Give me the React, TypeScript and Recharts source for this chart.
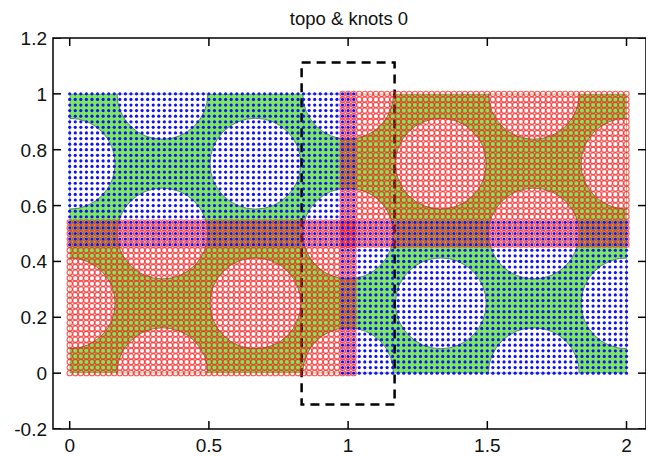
import React from "react";
import { ComposedChart, Scatter, XAxis, YAxis, ReferenceArea } from "recharts";

// axis setup
const xDomain = [-0.06, 2.07];
const yDomain = [-0.2, 1.2];
const xTicks = [0, 0.5, 1, 1.5, 2];
const yTicks = [-0.2, 0, 0.2, 0.4, 0.6, 0.8, 1, 1.2];

// knot spacing of the patches
const knotStep = 0.02;

// blue knot patches: [x0, x1, y0, y1]
const blueTopLeft = [0, 1.02, 0.46, 1];
const blueBottomRight = [0.98, 2, 0, 0.54];
// red knot patches
const redBottomLeft = [0, 1.02, 0, 0.54];
const redTopRight = [0.98, 2, 0.46, 1];

// topology holes (centres and radius)
const holeX = [0, 0, 0.667, 0.667, 1.333, 1.333, 2, 2, 0.333, 0.333, 0.333, 1, 1, 1, 1.667, 1.667, 1.667];
const holeY = [0.25, 0.75, 0.25, 0.75, 0.25, 0.75, 0.25, 0.75, 0, 0.5, 1, 0, 0.5, 1, 0, 0.5, 1];
const holeR = 0.163;

// the topology domain and the dashed box
const topoBox = [0, 2, 0, 1];
const dashedBox = [0.833, 1.167, -0.112, 1.112];

const buildPatch = (p: number[]) => {
  const pts: { x: number; y: number }[] = [];
  const i0 = Math.round(p[0] / knotStep);
  const i1 = Math.round(p[1] / knotStep);
  const j0 = Math.round(p[2] / knotStep);
  const j1 = Math.round(p[3] / knotStep);
  for (let i = i0; i <= i1; i++) {
    for (let j = j0; j <= j1; j++) {
      pts.push({ x: i * knotStep, y: j * knotStep });
    }
  }
  return pts;
};

const blueData = [...buildPatch(blueTopLeft), ...buildPatch(blueBottomRight)];
const redData = [...buildPatch(redBottomLeft), ...buildPatch(redTopRight)];

const tickBottom = xTicks.map((x) => ({ x, y: yDomain[0] }));
const tickTop = xTicks.map((x) => ({ x, y: yDomain[1] }));
const tickLeft = yTicks.map((y) => ({ x: xDomain[0], y }));
const tickRight = yTicks.map((y) => ({ x: xDomain[1], y }));

const FONT = "'Liberation Sans', Arial, Helvetica, sans-serif";

const TopoShape = (props: any) => {
  const { x, y, width, height } = props;
  const sx = width / (topoBox[1] - topoBox[0]);
  const sy = height / (topoBox[3] - topoBox[2]);
  let d = `M${x},${y}h${width}v${height}h${-width}Z`;
  holeX.forEach((hx, k) => {
    const cx = x + (hx - topoBox[0]) * sx;
    const cy = y + (topoBox[3] - holeY[k]) * sy;
    const r = holeR * sx;
    d += `M${cx - r},${cy}a${r},${r} 0 1,0 ${2 * r},0a${r},${r} 0 1,0 ${-2 * r},0Z`;
  });
  return (
    <g>
      <defs>
        <clipPath id="topoClip">
          <rect x={x} y={y} width={width} height={height} />
        </clipPath>
      </defs>
      <path d={d} fill="#7ee85c" fillRule="evenodd" stroke="#3f6e38" strokeWidth={0.8} clipPath="url(#topoClip)" />
    </g>
  );
};

const BlueDot = (props: any) => <circle cx={props.cx} cy={props.cy} r={1.6} fill="#1010ff" />;
const RedRing = (props: any) => (
  <circle cx={props.cx} cy={props.cy} r={2.6} fill="none" stroke="#ff1a1a" strokeOpacity={0.72} strokeWidth={1.15} />
);

const TickUp = (props: any) => <line x1={props.cx} y1={props.cy} x2={props.cx} y2={props.cy - 8} stroke="#000" strokeWidth={1.5} />;
const TickDown = (props: any) => <line x1={props.cx} y1={props.cy} x2={props.cx} y2={props.cy + 8} stroke="#000" strokeWidth={1.5} />;
const TickRightward = (props: any) => <line x1={props.cx} y1={props.cy} x2={props.cx + 8} y2={props.cy} stroke="#000" strokeWidth={1.5} />;
const TickLeftward = (props: any) => <line x1={props.cx} y1={props.cy} x2={props.cx - 8} y2={props.cy} stroke="#000" strokeWidth={1.5} />;

const XTickLabel = (props: any) => (
  <text x={props.x} y={props.y + 23} textAnchor="middle" fontFamily={FONT} fontSize={19} fill="#111">
    {props.payload.value}
  </text>
);
const YTickLabel = (props: any) => (
  <text x={props.x - 6} y={props.y + 7} textAnchor="end" fontFamily={FONT} fontSize={19} fill="#111">
    {props.payload.value}
  </text>
);

export default function App() {
  return (
    <div style={{ position: "relative", width: 646, height: 449 }}>
      <div
        style={{
          position: "absolute",
          left: 45,
          width: 592,
          top: 0,
          textAlign: "center",
          fontFamily: FONT,
          fontSize: 18.5,
          lineHeight: "22px",
          color: "#111",
        }}
      >
        topo &amp; knots 0
      </div>
      <ComposedChart width={646} height={449} margin={{ top: 30, right: 8, bottom: 0, left: 0 }}>
        <XAxis
          type="number"
          dataKey="x"
          domain={xDomain}
          ticks={xTicks}
          interval={0}
          allowDataOverflow
          axisLine={false}
          tickLine={false}
          tickSize={0}
          tickMargin={0}
          height={28}
          tick={<XTickLabel />}
        />
        <YAxis
          type="number"
          dataKey="y"
          domain={yDomain}
          ticks={yTicks}
          interval={0}
          allowDataOverflow
          axisLine={false}
          tickLine={false}
          tickSize={0}
          tickMargin={0}
          width={45}
          tick={<YTickLabel />}
        />
        <ReferenceArea
          x1={topoBox[0]}
          x2={topoBox[1]}
          y1={topoBox[2]}
          y2={topoBox[3]}
          shape={<TopoShape />}
          ifOverflow="visible"
        />
        <Scatter data={redData} shape={<RedRing />} isAnimationActive={false} />
        <Scatter data={blueData} shape={<BlueDot />} isAnimationActive={false} />
        <Scatter data={tickBottom} shape={<TickUp />} isAnimationActive={false} />
        <Scatter data={tickTop} shape={<TickDown />} isAnimationActive={false} />
        <Scatter data={tickLeft} shape={<TickRightward />} isAnimationActive={false} />
        <Scatter data={tickRight} shape={<TickLeftward />} isAnimationActive={false} />
        <ReferenceArea
          x1={dashedBox[0]}
          x2={dashedBox[1]}
          y1={dashedBox[2]}
          y2={dashedBox[3]}
          fill="none"
          fillOpacity={0}
          stroke="#000"
          strokeWidth={2.5}
          strokeDasharray="9 6"
          ifOverflow="visible"
        />
        <ReferenceArea
          x1={xDomain[0]}
          x2={xDomain[1]}
          y1={yDomain[0]}
          y2={yDomain[1]}
          fill="none"
          fillOpacity={0}
          stroke="#000"
          strokeWidth={1.5}
          ifOverflow="visible"
        />
      </ComposedChart>
    </div>
  );
}
